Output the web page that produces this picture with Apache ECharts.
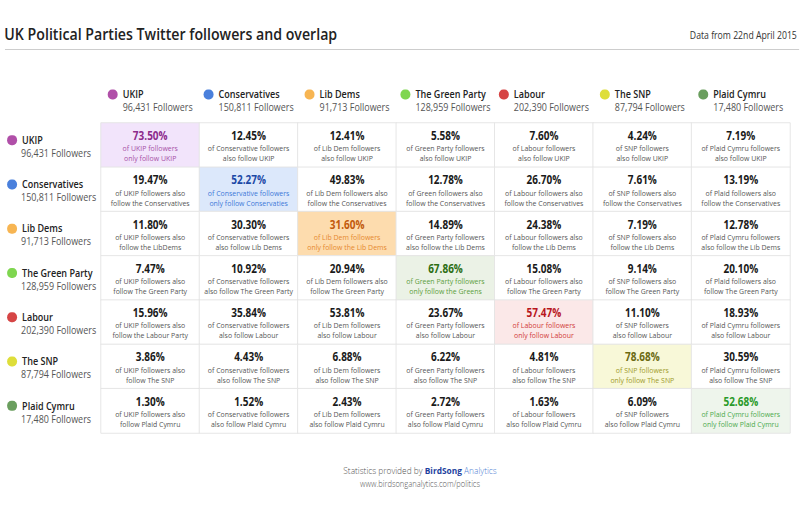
<!DOCTYPE html>
<html>
<head>
<meta charset="utf-8">
<script src="https://cdn.jsdelivr.net/npm/echarts@6/dist/echarts.min.js"></script>
<style>
html,body{margin:0;padding:0;background:#fff;overflow:hidden;width:800px;height:505px;}
#c{width:920px;height:505px;transform:scaleX(0.869565);transform-origin:0 0;}
</style>
</head>
<body>
<div id="c"></div>
<script>
// ---- data ----
const parties = ['UKIP', 'Conservatives', 'Lib Dems', 'The Green Party', 'Labour', 'The SNP', 'Plaid Cymru'];
const followers = ['96,431', '150,811', '91,713', '128,959', '202,390', '87,794', '17,480'];
const dotColors = ['#b04fa8', '#4a80dc', '#f7b552', '#7fd650', '#d64545', '#dede3a', '#6a9e5e'];
const diagBg = ['#f2e4fb', '#dce8fb', '#fddcae', '#ebf2e6', '#fbe8e8', '#f8f8d8', '#eef5ec'];
const diagPct = ['#8c2a8c', '#1c49a6', '#c25a0c', '#2d6e14', '#b8161d', '#6c6a12', '#2a9a2a'];
const diagDesc = ['#a64fa6', '#3c78d8', '#e6892e', '#5c9e3c', '#d13a3a', '#9e9a2a', '#4caa4c'];
// overlap[row][col]: share of column party followers who also (or only, diagonal) follow row party
const overlap = [
  [73.50, 12.45, 12.41, 5.58, 7.60, 4.24, 7.19],
  [19.47, 52.27, 49.83, 12.78, 26.70, 7.61, 13.19],
  [11.80, 30.30, 31.60, 14.89, 24.38, 7.19, 12.78],
  [7.47, 10.92, 20.94, 67.86, 15.08, 9.14, 20.10],
  [15.96, 35.84, 53.81, 23.67, 57.47, 11.10, 18.93],
  [3.86, 4.43, 6.88, 6.22, 4.81, 78.68, 30.59],
  [1.30, 1.52, 2.43, 2.72, 1.63, 6.09, 52.68]
];
const descriptions = [
  ['of UKIP followers\nonly follow UKIP', 'of Conservative followers\nalso follow UKIP', 'of Lib Dem followers\nalso follow UKIP', 'of Green Party followers\nalso follow UKIP', 'of Labour followers\nalso follow UKIP', 'of SNP followers\nalso follow UKIP', 'of Plaid Cymru followers\nalso follow UKIP'],
  ['of UKIP followers also\nfollow the Conservatives', 'of Conservative followers\nonly follow Conservaties', 'of Lib Dem followers also\nfollow the Conservatives', 'of Green followers also\nfollow the Conservatives', 'of Labour followers also\nfollow the Conservatives', 'of SNP followers also\nfollow the Conservatives', 'of Plaid followers also\nfollow the Conservatives'],
  ['of UKIP followers also\nfollow the LibDems', 'of Conservative followers\nalso follow Lib Dems', 'of Lib Dem followers\nonly follow the Lib Dems', 'of Green Party followers\nalso follow the Lib Dems', 'of Labour followers also\nfollow the Lib Dems', 'of SNP followers also\nfollow the Lib Dems', 'of Plaid Cymru followers\nalso follow the Lib Dems'],
  ['of UKIP followers also\nfollow The Green Party', 'of Conservative followers\nalso follow The Green Party', 'of Lib Dem followers also\nfollow The Green Party', 'of Green Party followers\nonly follow the Greens', 'of Labour followers also\nfollow The Green Party', 'of SNP followers also\nfollow The Green Party', 'of Plaid followers also\nfollow The Green Party'],
  ['of UKIP followers also\nfollow the Labour Party', 'of Conservative followers\nalso follow Labour', 'of Lib Dem followers\nalso follow Labour', 'of Green Party followers\nalso follow Labour', 'of Labour followers\nonly follow Labour', 'of SNP followers\nalso follow Labour', 'of Plaid Cymru followers\nalso follow Labour'],
  ['of UKIP followers also\nfollow The SNP', 'of Conservative followers\nalso follow The SNP', 'of Lib Dem followers\nalso follow The SNP', 'of Green Party followers\nalso follow The SNP', 'of Labour followers\nalso follow The SNP', 'of SNP followers\nonly follow The SNP', 'of Plaid Cymru followers\nalso follow The SNP'],
  ['of UKIP followers also\nfollow Plaid Cymru', 'of Conservative followers\nalso follow Plaid Cymru', 'of Lib Dem followers\nalso follow Plaid Cymru', 'of Green Party followers\nalso follow Plaid Cymru', 'of Labour followers\nalso follow Plaid Cymru', 'of SNP followers\nalso follow Plaid Cymru', 'of Plaid Cymru followers\nonly follow Plaid Cymru']
];
const titleText = 'UK Political Parties Twitter followers and overlap';
const subtitleText = 'Data from 22nd April 2015';

// ---- build ----
const FONT = '"Open Sans", "Noto Sans", sans-serif';
const cells = [];
overlap.forEach((row, r) => row.forEach((v, c) => {
  cells.push({ value: [c, r, v], itemStyle: { color: c === r ? diagBg[c] : '#ffffff' } });
}));

const headRich = {
  n: { fontFamily: FONT, fontSize: 10.4, fontWeight: 600, color: '#222', lineHeight: 13, align: 'left', padding: [0, 0, 0, 5.75] },
  f: { fontFamily: FONT, fontSize: 10.3, color: '#555', lineHeight: 13, align: 'left', padding: [0, 0, 0, 17.25] }
};
const rowRich = {
  n: { fontFamily: FONT, fontSize: 10.4, fontWeight: 600, color: '#222', lineHeight: 13, align: 'left', padding: [0, 0, 0, 5.75] },
  f: { fontFamily: FONT, fontSize: 10.3, color: '#555', lineHeight: 13, align: 'left', padding: [0, 0, 0, 16.1] }
};
dotColors.forEach((col, i) => {
  const d = { width: 11.5, height: 10, borderRadius: 5, backgroundColor: col, align: 'left', lineHeight: 13 };
  headRich['d' + i] = d;
  rowRich['d' + i] = d;
});
const cellRich = {
  p: { fontFamily: FONT, fontSize: 11.5, fontWeight: 'bold', color: '#1a1a1a', lineHeight: 16 },
  q: { fontFamily: FONT, fontSize: 8, color: '#555', lineHeight: 10 }
};
parties.forEach((_, i) => {
  cellRich['p' + i] = { fontFamily: FONT, fontSize: 11.5, fontWeight: 'bold', color: diagPct[i], lineHeight: 16 };
  cellRich['q' + i] = { fontFamily: FONT, fontSize: 8, color: diagDesc[i], lineHeight: 10 };
});

const chart = echarts.init(document.getElementById('c'), null, { renderer: 'svg' });
chart.setOption({
  animation: false,
  backgroundColor: '#ffffff',
  title: [
    { text: titleText, left: 5, top: 23, padding: 0,
      textStyle: { fontFamily: FONT, fontSize: 16.3, fontWeight: 600, color: '#222', lineHeight: 22 } },
    { text: subtitleText, right: 3.5, top: 29, padding: 0,
      textStyle: { fontFamily: FONT, fontSize: 10, fontWeight: 'normal', color: '#333', lineHeight: 12 } }
  ],
  graphic: [
    { type: 'line', silent: true, shape: { x1: 5.75, y1: 49.5, x2: 919, y2: 49.5 }, style: { stroke: '#c9c9c9', lineWidth: 1 } },
    { type: 'text', silent: true, x: 483, y: 470.5,
      style: {
        text: '{s|Statistics provided by }{b|BirdSong}{a| Analytics}',
        align: 'center', verticalAlign: 'middle',
        rich: {
          s: { fontFamily: FONT, fontSize: 9.6, fontWeight: 300, fill: '#555' },
          b: { fontFamily: FONT, fontSize: 9.6, fontWeight: 'bold', fill: '#1d3f9e' },
          a: { fontFamily: FONT, fontSize: 9.6, fontWeight: 300, fill: '#4f82d4' }
        }
      } },
    { type: 'text', silent: true, x: 483, y: 483.5,
      style: { text: 'www.birdsonganalytics.com/politics', align: 'center', verticalAlign: 'middle',
        fontFamily: FONT, fontSize: 8.7, fontWeight: 300, fill: '#555' } }
  ],
  grid: { left: 116.15, right: 11.5, top: 123, bottom: 72, containLabel: false, outerBoundsMode: 'none' },
  xAxis: {
    type: 'category', data: parties, position: 'top',
    axisLine: { show: false }, axisTick: { show: false }, splitLine: { show: false }, splitArea: { show: false },
    axisLabel: {
      interval: 0, margin: 9, align: 'center',
      formatter: (v, i) => `{d${i}| }{n|${v}}\n{f|${followers[i]} Followers}`,
      rich: headRich
    }
  },
  yAxis: {
    type: 'category', data: parties, inverse: true,
    axisLine: { show: false }, axisTick: { show: false }, splitLine: { show: false }, splitArea: { show: false },
    axisLabel: {
      interval: 0, margin: 108, align: 'left', padding: [3, 0, 0, 0],
      formatter: (v, i) => `{d${i}| }{n|${v}}\n{f|${followers[i]} Followers}`,
      rich: rowRich
    }
  },
  series: [{
    type: 'heatmap',
    data: cells,
    itemStyle: { borderColor: '#e4e4e4', borderWidth: 1 },
    emphasis: { disabled: true },
    label: {
      show: true,
      formatter: (p) => {
        const [c, r, v] = p.value;
        const pk = c === r ? 'p' + c : 'p';
        const qk = c === r ? 'q' + c : 'q';
        const lines = descriptions[r][c].split('\n').map(l => `{${qk}|${l}}`).join('\n');
        return `{${pk}|${v.toFixed(2)}%}\n${lines}`;
      },
      rich: cellRich
    }
  }]
});
</script>
</body>
</html>
